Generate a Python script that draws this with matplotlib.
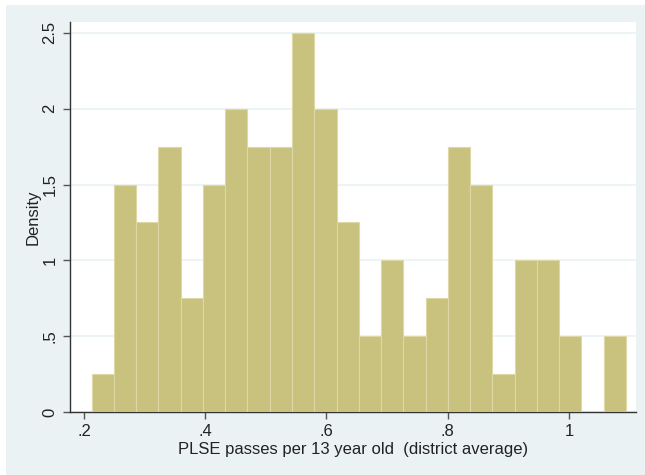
import matplotlib
matplotlib.use("Agg")
import matplotlib.pyplot as plt
from matplotlib.patches import Rectangle
import numpy as np

# Data
bin_start = 0.2127
bin_width = 0.03672
densities = [0.25, 1.5, 1.25, 1.75, 0.75, 1.5, 2.0, 1.75, 1.75, 2.5, 2.0, 1.25,
             0.5, 1.0, 0.5, 0.75, 1.75, 1.5, 0.25, 1.0, 1.0, 0.5, 0.0, 0.5]
xticks = [0.2, 0.4, 0.6, 0.8, 1.0]
xticklabels = [".2", ".4", ".6", ".8", "1"]
yticks = [0, 0.5, 1, 1.5, 2, 2.5]
yticklabels = ["0", ".5", "1", "1.5", "2", "2.5"]

plt.rcParams['font.family'] = ['Liberation Sans', 'DejaVu Sans']

fig = plt.figure(figsize=(6.45, 4.75), dpi=100)
fig.patch.set_facecolor('white')
bg = Rectangle((6/645, 0), 1 - 6/645, 1 - 5/475, transform=fig.transFigure,
               facecolor='#EAF2F3', edgecolor='none', zorder=-10)
fig.patches.append(bg)

ax = fig.add_axes([70/645, 1 - 412/475, (636 - 70)/645, (412 - 22)/475])
ax.set_zorder(1)
ax.set_facecolor('white')

lefts = bin_start + bin_width * np.arange(len(densities))
ax.bar(lefts, densities, width=bin_width, align='edge', color='#C8C27E',
       edgecolor='#DDD8A6', linewidth=0.8, zorder=3)

ax.set_xlim(0.177, 1.1106)
ax.set_ylim(0, 2.572)
ax.set_xticks(xticks)
ax.set_xticklabels(xticklabels)
ax.set_yticks(yticks)
ax.set_yticklabels(yticklabels, rotation=90, va='center')
ax.yaxis.grid(True, color='#EAF2F3', linewidth=1.2, zorder=0)
ax.set_axisbelow(True)

for s in ['top', 'right']:
    ax.spines[s].set_visible(False)
for s in ['left', 'bottom']:
    ax.spines[s].set_color('#333333')
    ax.spines[s].set_linewidth(1.0)

ax.tick_params(axis='both', direction='out', length=5, width=1, color='#555555',
               labelsize=12, labelcolor='#222222', pad=4)
ax.set_xlabel("PLSE passes per 13 year old  (district average)", fontsize=12,
              color='#222222', labelpad=2)
ax.set_ylabel("Density", fontsize=12, color='#222222', labelpad=1)

fig.savefig("out.png", dpi=100, facecolor=fig.get_facecolor())
